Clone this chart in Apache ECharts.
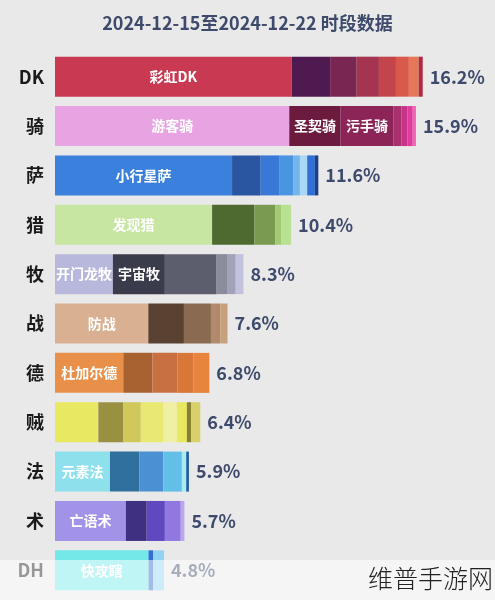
<!DOCTYPE html>
<html><head><meta charset="utf-8">
<script src="https://cdn.jsdelivr.net/npm/echarts@6/dist/echarts.min.js"></script>
<style>html,body{margin:0;padding:0;background:#e9e9e9}#c{width:495px;height:600px}</style>
</head><body><div id="c"></div>
<script>
const titleText = '2024-12-15至2024-12-22 时段数据';
const categories = ['DK','骑','萨','猎','牧','战','德','贼','法','术','DH'];
const totals = [16.2,15.9,11.6,10.4,8.3,7.6,6.8,6.4,5.9,5.7,4.8];
// segment shares (%) for each class, left to right
const dkShares   = [10.43,1.69,1.17,0.98,0.75,0.57,0.43,0.18];
const qiShares   = [10.32,2.26,2.32,0.37,0.25,0.24,0.14];
const saShares   = [7.80,1.26,0.84,0.59,0.30,0.32,0.34,0.15];
const lieShares  = [6.92,1.86,0.93,0.25,0.44];
const muShares   = [2.55,2.29,2.28,0.49,0.35,0.34];
const zhanShares = [4.11,1.57,1.19,0.42,0.31];
const deShares   = [3.01,1.28,1.10,0.70,0.71];
const zeiShares  = [1.91,1.10,0.77,1.00,0.59,0.44,0.19,0.40];
const faShares   = [2.42,1.30,1.05,0.82,0.19,0.12];
const shuShares  = [3.12,0.92,0.80,0.70,0.16];
const dhShares   = [4.12,0.20,0.48];
// deck names shown inside segments
const dkNames   = ['彩虹DK'];
const qiNames   = ['游客骑','圣契骑','污手骑'];
const saNames   = ['小行星萨'];
const lieNames  = ['发现猎'];
const muNames   = ['开门龙牧','宇宙牧'];
const zhanNames = ['防战'];
const deNames   = ['杜加尔德'];
const zeiNames  = [];
const faNames   = ['元素法'];
const shuNames  = ['亡语术'];
const dhNames   = ['快攻瞎'];

const shares = [dkShares,qiShares,saShares,lieShares,muShares,zhanShares,deShares,zeiShares,faShares,shuShares,dhShares];
const names  = [dkNames,qiNames,saNames,lieNames,muNames,zhanNames,deNames,zeiNames,faNames,shuNames,dhNames];
const palette = [
  ['#c93a52','#4f1a4f','#7a2652','#a53450','#c4444c','#d95a4c','#e6785a','#b02a45'],
  ['#e8a4e2','#6c1a3e','#8c2458','#a8306c','#c6348a','#e03c9c','#f064b4'],
  ['#3c80de','#2a55a0','#3a78d8','#4a95e2','#72b6ec','#a8d8f6','#3070d2','#1e3f82'],
  ['#c6e6a2','#4f6a30','#7a9a50','#a2ca72','#b8e292'],
  ['#b8b8dc','#3a3b4b','#5c5e6e','#8a8c9c','#a2a2ba','#c2c2de'],
  ['#d9b092','#5a4232','#8a6a50','#b08a6a','#c9a07c'],
  ['#e8904a','#a86232','#c87042','#d87838','#e8843e'],
  ['#e8e862','#9a9042','#d0c85a','#e8e872','#f0f0a2','#e8e862','#8a8032','#d8d06a'],
  ['#8ee0ec','#30709e','#4a90d2','#62c0e8','#aaeaf2','#2060a2'],
  ['#a292e8','#403082','#6048c0','#9078e0','#b8a8f2'],
  ['#72e8e8','#3070d2','#92d2f2']
];
const FONT = '"Noto Sans CJK SC",sans-serif';
const maxSegs = Math.max(...shares.map(s => s.length));
const series = [];
for (let i = 0; i < maxSegs; i++) {
  series.push({
    type: 'bar', stack: 'a', barWidth: 40,
    data: shares.map((s, r) => ({
      value: i < s.length ? s[i] : 0,
      itemStyle: { color: palette[r][i] || '#ccc' },
      label: {
        show: !!names[r][i], formatter: names[r][i] || '',
        position: 'inside', color: '#fff', fontSize: 14, fontWeight: 'bold', fontFamily: FONT
      }
    })),
    emphasis: { disabled: true }
  });
}
series.push({
  type: 'bar', stack: 'a', barWidth: 40,
  data: totals.map(() => 0),
  label: {
    show: true, position: 'right', distance: 7,
    formatter: p => totals[p.dataIndex].toFixed(1) + '%',
    color: '#3d4a6b', fontSize: 18, fontWeight: 600, fontFamily: FONT
  }
});

const chart = echarts.init(document.getElementById('c'));
chart.setOption({
  backgroundColor: '#e9e9e9',
  animation: false,
  title: { text: titleText, left: 'center', top: 9,
    textStyle: { color: '#3d4a6b', fontSize: 18, fontWeight: 600, fontFamily: FONT } },
  grid: { left: 55, top: 52, width: 408.6, height: 543 },
  xAxis: { type: 'value', min: 0, max: 18, show: false },
  yAxis: { type: 'category', data: categories, inverse: true,
    axisLine: { show: false }, axisTick: { show: false },
    axisLabel: { margin: 11, fontSize: 18, fontWeight: 'bold', color: '#1a1a1a', fontFamily: FONT } },
  series: series,
  graphic: [
    { type: 'rect', left: 0, top: 560, shape: { width: 495, height: 40 },
      style: { fill: 'rgba(255,255,255,0.55)' }, z: 100 },
    { type: 'text', right: 2, top: 566, z: 101,
      style: { text: '维普手游网', fill: '#222', font: '300 25px "Noto Sans CJK SC"' } }
  ]
});
</script></body></html>
